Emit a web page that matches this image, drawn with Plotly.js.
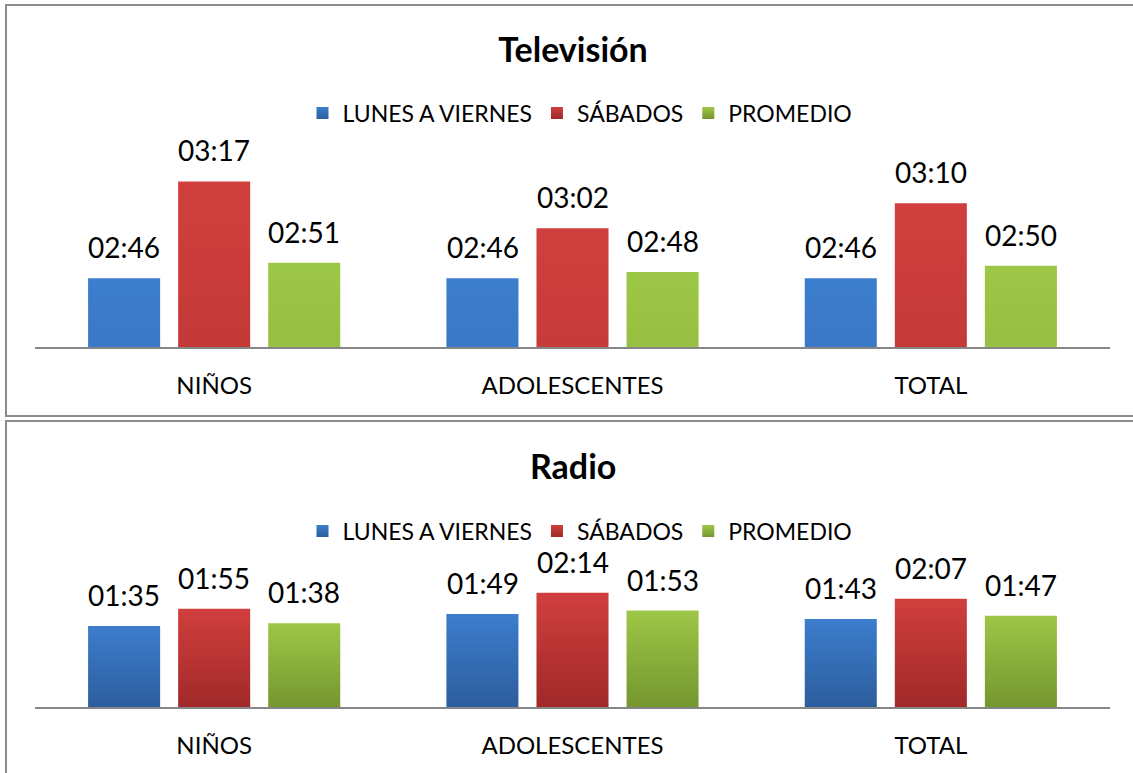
<!DOCTYPE html>
<html>
<head>
<meta charset="utf-8">
<script src="https://cdn.plot.ly/plotly-3.0.1.min.js"></script>
<style>
  html, body { margin: 0; padding: 0; background: #ffffff; overflow: hidden; }
  #chart { width: 1133px; height: 773px; }
</style>
</head>
<body>
<div id="chart"></div>
<script>
// ---- data ----
const categories = ['NIÑOS', 'ADOLESCENTES', 'TOTAL'];
const seriesNames = ['LUNES A VIERNES', 'SÁBADOS', 'PROMEDIO'];
const tvLunes = ['02:46', '02:46', '02:46'];
const tvSabados = ['03:17', '03:02', '03:10'];
const tvPromedio = ['02:51', '02:48', '02:50'];
const radioLunes = ['01:35', '01:49', '01:43'];
const radioSabados = ['01:55', '02:14', '02:07'];
const radioPromedio = ['01:38', '01:53', '01:47'];
const chartTitles = ['Televisión', 'Radio'];

// ---- helpers ----
const W = 1133, H = 773;
const X = px => px / W;
const Y = py => 1 - py / H;
const toMin = s => { const p = s.split(':'); return (+p[0]) * 60 + (+p[1]); };

const colors = ['#3570bb', '#bb3534', '#8bb03d'];
const gradTop = ['#3c7dcd', '#d03f3d', '#9dc747'];
const gradBottom = ['#2d5e9e', '#a12929', '#75962f'];
const FONT = 'Lato, "Open Sans", sans-serif';

const tvSeries = [tvLunes, tvSabados, tvPromedio];
const radioSeries = [radioLunes, radioSabados, radioPromedio];

const traces = [];
const annotations = [];

function addChart(series, xa, ya, legendName) {
  series.forEach((vals, s) => {
    traces.push({
      type: 'bar',
      name: seriesNames[s],
      x: categories,
      y: vals.map(toMin),
      xaxis: xa, yaxis: ya,
      legend: legendName,
      marker: { color: colors[s], line: { width: 0 } },
      hoverinfo: 'skip',
      cliponaxis: false
    });
    vals.forEach((v, i) => {
      annotations.push({
        x: categories[i], y: toMin(v),
        xref: xa, yref: ya,
        text: v, showarrow: false,
        yanchor: 'bottom', xanchor: 'center',
        xshift: (s - 1) * 90, yshift: 12,
        font: { family: FONT, size: 28, color: '#000000' }
      });
    });
  });
}

addChart(tvSeries, 'x', 'y', 'legend');
addChart(radioSeries, 'x2', 'y2', 'legend2');

annotations.push({
  text: '<b>' + chartTitles[1] + '</b>', showarrow: false,
  xref: 'paper', yref: 'paper', x: X(573), y: Y(465),
  xanchor: 'center', yanchor: 'middle',
  font: { family: FONT, size: 34, color: '#000000' }
});

const xaxisBase = {
  type: 'category',
  domain: [X(35), X(1110)],
  showline: true, linecolor: '#868686', linewidth: 1.5,
  showgrid: false, zeroline: false, ticks: '',
  tickfont: { family: FONT, size: 24, color: '#000000' },
  ticklabelstandoff: 17,
  fixedrange: true
};

const legendBase = {
  orientation: 'h', xanchor: 'center', yanchor: 'middle',
  font: { family: FONT, size: 23, color: '#000000' }, bgcolor: 'rgba(0,0,0,0)',
  itemclick: false, itemdoubleclick: false, itemwidth: 30
};

const layout = {
  width: W, height: H,
  margin: { l: 0, r: 0, t: 0, b: 0 },
  paper_bgcolor: '#ffffff', plot_bgcolor: 'rgba(0,0,0,0)',
  font: { family: FONT, color: '#000000' },
  barmode: 'group', bargap: 0.246, bargroupgap: 0.2,
  title: {
    text: '<b>' + chartTitles[0] + '</b>',
    x: X(573), xanchor: 'center', xref: 'paper',
    y: Y(50), yanchor: 'middle', yref: 'container',
    font: { family: FONT, size: 34, color: '#000000' }
  },
  xaxis: Object.assign({}, xaxisBase, { anchor: 'y' }),
  yaxis: { domain: [Y(347), Y(122)], range: [144, 216], visible: false, fixedrange: true },
  xaxis2: Object.assign({}, xaxisBase, { anchor: 'y2' }),
  yaxis2: { domain: [Y(707), Y(579)], range: [0, 150], visible: false, fixedrange: true },
  legend: Object.assign({}, legendBase, { x: X(580), y: Y(113) }),
  legend2: Object.assign({}, legendBase, { x: X(580), y: Y(531) }),
  shapes: [
    { type: 'rect', xref: 'paper', yref: 'paper', x0: X(6), x1: X(1145), y0: Y(416), y1: Y(5),
      line: { color: '#8c8c8c', width: 2 }, fillcolor: 'rgba(0,0,0,0)', layer: 'below' },
    { type: 'rect', xref: 'paper', yref: 'paper', x0: X(6), x1: X(1145), y0: Y(790), y1: Y(421),
      line: { color: '#8c8c8c', width: 2 }, fillcolor: 'rgba(0,0,0,0)', layer: 'below' }
  ],
  annotations: annotations,
  showlegend: true
};

Plotly.newPlot('chart', traces, layout, { displayModeBar: false, staticPlot: true }).then(gd => {
  // vertical gradient fills like the original (lighter on top, darker at bottom)
  const svg = gd.querySelector('svg.main-svg');
  const NS = 'http://www.w3.org/2000/svg';
  const defs = document.createElementNS(NS, 'defs');
  colors.forEach((c, k) => {
    const lg = document.createElementNS(NS, 'linearGradient');
    lg.setAttribute('id', 'barGrad' + k);
    lg.setAttribute('x1', '0'); lg.setAttribute('y1', '0');
    lg.setAttribute('x2', '0'); lg.setAttribute('y2', '1');
    [[0, gradTop[k]], [1, gradBottom[k]]].forEach(([o, col]) => {
      const st = document.createElementNS(NS, 'stop');
      st.setAttribute('offset', o);
      st.setAttribute('stop-color', col);
      lg.appendChild(st);
    });
    defs.appendChild(lg);
  });
  svg.insertBefore(defs, svg.firstChild);
  gd.querySelectorAll('.barlayer .trace').forEach((tr, t) => {
    tr.querySelectorAll('path').forEach(p => { p.style.fill = 'url(#barGrad' + (t % 3) + ')'; });
  });
  gd.querySelectorAll('.legendpoints').forEach((lp, t) => {
    lp.querySelectorAll('path').forEach(p => { p.style.fill = 'url(#barGrad' + (t % 3) + ')'; });
  });
});
</script>
</body>
</html>
